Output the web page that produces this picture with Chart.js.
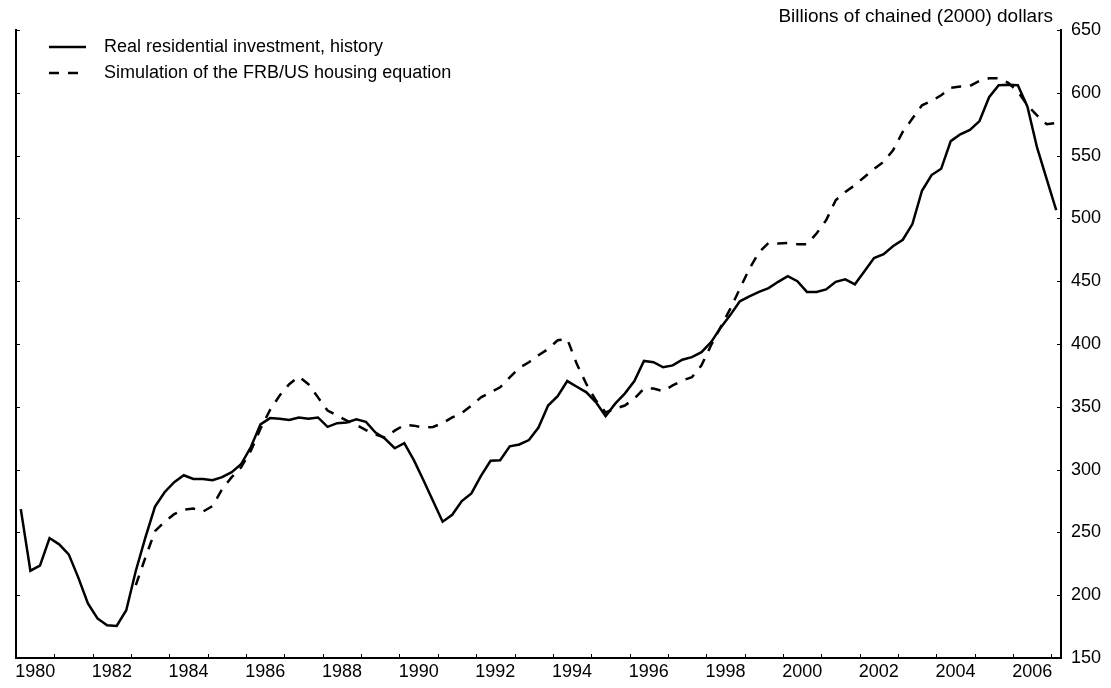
<!DOCTYPE html>
<html>
<head>
<meta charset="utf-8">
<script src="https://cdn.jsdelivr.net/npm/chart.js@4.4.0/dist/chart.umd.min.js"></script>
<style>
  html, body { margin: 0; padding: 0; background: #fff; }
  #wrap { width: 1111px; height: 688px; }
</style>
</head>
<body>
<div id="wrap"><canvas id="housing"></canvas></div>
<script>
// quarterly, 1980Q1 .. 2007Q1
const quarters = [];
for (let yr = 1980; yr <= 2007; yr++) {
    for (let q = 1; q <= 4; q++) {
        if (yr === 2007 && q > 1) break;
        quarters.push(yr + 'Q' + q);
    }
}

const history = [
    268.5, 219.5, 223.5, 245.5, 240.5, 232.5, 214, 193.5, 181.5, 176, 175.5, 188,
    219.5, 246, 270.5, 282, 290, 295.5, 292.5, 292.5, 291.5, 294, 298, 304.5,
    318, 336, 341, 340.5, 339.5, 341.5, 340.5, 341.5, 334, 337, 337.5, 340,
    338, 329.5, 324.5, 317, 321, 307.5, 291.5, 275, 258.5, 264, 275, 281,
    295, 307, 307.5, 318.5, 320, 323.5, 333.5, 351, 358.5, 370.5, 366, 361.5,
    353.5, 342.5, 352.5, 360.5, 370.5, 386.5, 385.5, 381.5, 383, 387.5, 389.5, 393.5,
    401.5, 413, 423, 434, 438, 441.5, 444.5, 449.5, 454, 450, 441.5, 441.5,
    443.5, 449.5, 451.5, 447.5, 458, 468.5, 471.5, 478, 483, 495.5, 522, 534.5,
    539.5, 561.5, 567, 570.5, 577.5, 596.5, 606, 606.5, 606, 589, 556.5, 531.5, 506.5
];

const simulation = [
    null, null, null, null, null, null, null, null, null, null, null, null,
    208, 230, 251, 258.5, 264.5, 268, 269, 266.5, 271, 284.5, 294, 302,
    315, 332.5, 347.5, 359, 368, 374, 368, 357.5, 347, 343, 339, 335.5,
    331.5, 328, 325.5, 331, 335.5, 335, 333.5, 334, 337, 341.5, 345, 351,
    357.5, 361.5, 365.5, 373.5, 381, 385.5, 391, 396, 403, 404, 384, 368,
    355, 345.5, 348.5, 351, 356.5, 364.5, 364.5, 362.5, 367, 371, 373.5, 383,
    399, 413.5, 428, 444, 460, 473, 480.5, 480, 480.5, 479.5, 479.5, 488,
    498.5, 514.5, 521, 526.5, 533, 539.5, 545, 554.5, 569, 579.5, 590, 593.5,
    598, 604, 605, 605.5, 609.5, 611.5, 611.5, 608, 601, 590, 582, 575, 576
];

const yearLabels = ['1980', '1982', '1984', '1986', '1988', '1990', '1992', '1994',
    '1996', '1998', '2000', '2002', '2004', '2006'];
const yTicks = [150, 200, 250, 300, 350, 400, 450, 500, 550, 600, 650];

const FONT = "'Liberation Sans', Arial, Helvetica, sans-serif";
const firstYear = 1980;
const lastYear = firstYear + quarters.length / 4;

// tick marks pointing into the plot, legend in the corner, unit label on top
const extras = {
    id: 'extras',
    afterDraw(chart) {
        const { ctx, chartArea: a, scales } = chart;
        ctx.save();
        ctx.strokeStyle = '#000';
        ctx.lineWidth = 1;
        ctx.beginPath();
        yTicks.forEach(v => {
            const py = Math.round(scales.y.getPixelForValue(v)) + 0.5;
            ctx.moveTo(a.left, py); ctx.lineTo(a.left + 4, py);
            ctx.moveTo(a.right, py); ctx.lineTo(a.right - 4, py);
        });
        for (let yr = firstYear + 1; yr <= lastYear; yr++) {
            const px = Math.round(scales.years.getPixelForValue(yr)) + 0.5;
            ctx.moveTo(px, a.bottom); ctx.lineTo(px, a.bottom - 4);
        }
        ctx.stroke();

        ctx.fillStyle = '#000';
        ctx.textBaseline = 'middle';
        ctx.textAlign = 'right';
        ctx.font = '19px ' + FONT;
        ctx.fillText('Billions of chained (2000) dollars', a.right - 8, 17);

        ctx.textAlign = 'left';
        ctx.font = '18px ' + FONT;
        chart.data.datasets.forEach((ds, k) => {
            const ly = 47 + k * 26;
            ctx.beginPath();
            ctx.lineWidth = ds.borderWidth;
            ctx.setLineDash(ds.borderDash || []);
            ctx.moveTo(a.left + 33, ly);
            ctx.lineTo(a.left + 70, ly);
            ctx.stroke();
            ctx.setLineDash([]);
            ctx.fillText(ds.label, a.left + 88, ly);
        });
        ctx.restore();
    }
};

new Chart(document.getElementById('housing'), {
    type: 'line',
    data: {
        labels: quarters,
        datasets: [
            {
                label: 'Real residential investment, history',
                data: history,
                borderColor: '#000',
                borderWidth: 2.5,
                pointRadius: 0,
                tension: 0
            },
            {
                label: 'Simulation of the FRB/US housing equation',
                data: simulation,
                borderColor: '#000',
                borderWidth: 2.5,
                borderDash: [10, 9],
                pointRadius: 0,
                tension: 0
            }
        ]
    },
    options: {
        responsive: true,
        maintainAspectRatio: false,
        animation: false,
        layout: { padding: { left: 16, right: 10, top: 30, bottom: 0 } },
        scales: {
            x: { type: 'category', display: false, offset: true },
            years: {
                type: 'linear',
                position: 'bottom',
                min: firstYear,
                max: lastYear,
                grid: { display: false, drawTicks: false },
                border: { display: true, color: '#000', width: 2 },
                afterBuildTicks: (scale) => {
                    scale.ticks = yearLabels.map(l => ({ value: Number(l) + 0.5 }));
                },
                afterFit: (scale) => { scale.height = 30; },
                ticks: {
                    autoSkip: false,
                    maxRotation: 0,
                    padding: 3,
                    color: '#000',
                    font: { family: FONT, size: 18 },
                    callback: (v) => String(Math.floor(v))
                }
            },
            y: {
                position: 'right',
                min: 150,
                max: 650,
                grid: { display: false, drawTicks: false },
                border: { display: true, color: '#000', width: 2 },
                afterBuildTicks: (scale) => {
                    scale.ticks = yTicks.map(v => ({ value: v }));
                },
                afterFit: (scale) => { scale.width = 40; },
                ticks: {
                    padding: 10,
                    color: '#000',
                    font: { family: FONT, size: 18 }
                }
            },
            yl: {
                position: 'left',
                min: 150,
                max: 650,
                grid: { display: false, drawTicks: false },
                border: { display: true, color: '#000', width: 2 },
                ticks: { display: false }
            }
        },
        plugins: {
            legend: { display: false },
            tooltip: { enabled: false }
        }
    },
    plugins: [extras]
});
</script>
</body>
</html>
